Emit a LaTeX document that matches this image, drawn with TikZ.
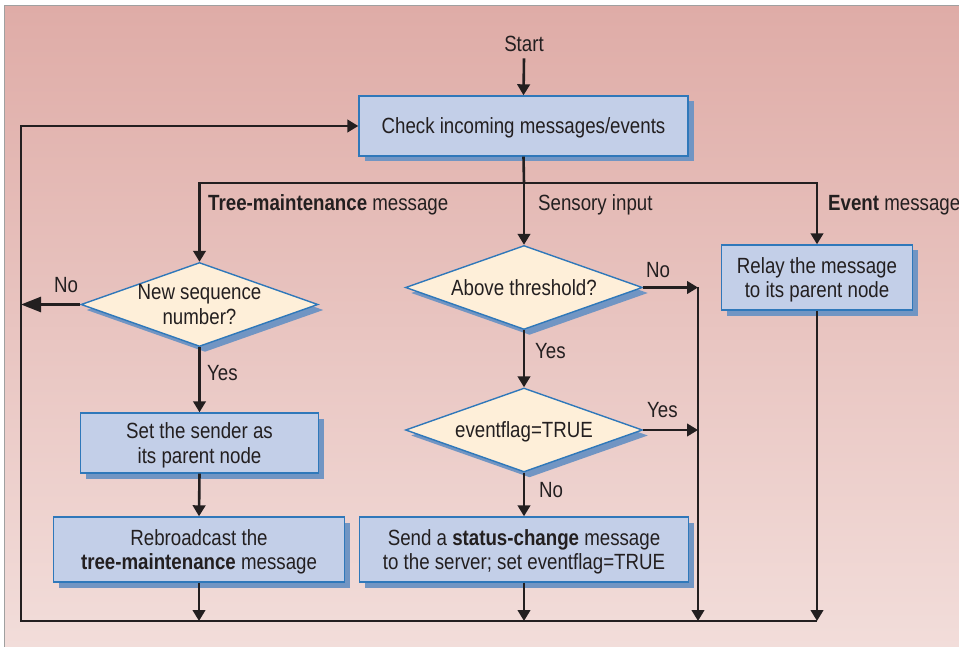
\documentclass[tikz,border=0pt]{standalone}
\usepackage{fontspec}
\setmainfont{Liberation Sans}[FakeStretch=0.85]
\usetikzlibrary{arrows.meta,shapes.geometric,shadows}
\definecolor{bgtop}{HTML}{DFACA7}
\definecolor{bgbot}{HTML}{F2DDDA}
\definecolor{boxfill}{HTML}{C3CFE8}
\definecolor{boxline}{HTML}{2F78BA}
\definecolor{shade}{HTML}{7195C3}
\definecolor{dfill}{HTML}{FEEFD9}
\definecolor{ink}{HTML}{231F20}
\definecolor{framegray}{HTML}{A0A0A0}
\begin{document}
\begin{tikzpicture}[x=1pt,y=-1pt,
  every node/.style={font=\fontsize{22}{24.5}\selectfont, text=ink},
  boxshadow/.style={general shadow={shadow xshift=5.5pt,shadow yshift=-5.5pt,fill=shade}},
  procbox/.style={draw=boxline, line width=1.4pt, fill=boxfill, inner sep=0pt, align=center, text depth=0pt, boxshadow},
  decision/.style={diamond, aspect=2.82, draw=boxline, line width=1.4pt, fill=dfill, inner xsep=-20pt, inner ysep=-5pt, minimum width=237pt, minimum height=84pt, align=center, text depth=0pt, boxshadow},
  flow/.style={draw=ink, line width=2.6pt, -{Triangle[length=11pt,width=12.5pt]}},
  bigflow/.style={draw=ink, line width=2.6pt, -{Triangle[length=20pt,width=15pt]}},
  lbl/.style={anchor=base west, inner sep=0pt},
]
\useasboundingbox (0,0) rectangle (959,647);
\shade[top color=bgtop, bottom color=bgbot] (4,6) rectangle (959,647);
\draw[framegray, line width=1pt] (4,647) -- (4,6) -- (959,6);

% nodes
\node[anchor=base, inner xsep=0pt, inner ysep=6pt] (start) at (524,52) {Start};
\node[procbox, minimum width=329pt, minimum height=60pt] (check) at (523.5,126) {Check incoming messages/events};
\node[decision] (nsd) at (199.5,304.5) {New sequence\\number?};
\node[decision] (ath) at (524,287.5) {Above threshold?};
\node[decision] (evf) at (524,430) {eventflag=TRUE};
\node[procbox, minimum width=191pt, minimum height=65pt] (relay) at (817,277.5) {Relay the message\\to its parent node};
\node[procbox, minimum width=238pt, minimum height=60pt] (setp) at (199.5,443) {Set the sender as\\its parent node};
\node[procbox, minimum width=291pt, minimum height=65pt] (rebro) at (199,549.5) {Rebroadcast the\\\textbf{tree-maintenance} message};
\node[procbox, minimum width=329pt, minimum height=65pt] (send) at (524,549.5) {Send a \textbf{status-change} message\\to the server; set eventflag=TRUE};

% labels
\node[lbl] (ltm) at (208,211) {\textbf{Tree-maintenance} message};
\node[lbl] (lsens) at (538,211) {Sensory input};
\node[lbl] (levt) at (828,211) {\textbf{Event} message};
\node[lbl] (lno1) at (54,293) {No};
\node[lbl] (lyes1) at (207,380) {Yes};
\node[lbl] (lno2) at (646,277) {No};
\node[lbl] (lyes2) at (535,358) {Yes};
\node[lbl] (lyes3) at (647,417) {Yes};
\node[lbl] (lno3) at (539,497) {No};

% helper coordinates
\coordinate (bj) at (524,183);
\coordinate (loopT) at (21,126);
\coordinate (loopB) at (21,621);
\coordinate (colB) at (698,621);

% connectors
\draw[flow] (start.south) -- (check.north);
\draw[draw=ink, line width=2.6pt] (check.south) -- (bj);
\draw[flow] (bj) -- (ath.north);
\draw[flow] (bj) -| (nsd.north);
\draw[flow] (bj) -| (relay.north);
\draw[bigflow] (nsd.west) -- (nsd.west -| loopB);
\draw[flow] (nsd.south) -- (setp.north);
\draw[flow] (setp.south) -- (rebro.north);
\draw[flow] (rebro.south) -- (rebro.south |- loopB);
\draw[flow] (ath.south) -- (evf.north);
\draw[flow] (ath.east) -- (ath.east -| colB);
\draw[flow] (evf.east) -- (evf.east -| colB);
\draw[flow] (ath.east -| colB) -- (colB);
\draw[flow] (evf.south) -- (send.north);
\draw[flow] (send.south) -- (send.south |- loopB);
\draw[flow] (relay.south) -- (relay.south |- loopB);
\draw[flow] (relay.south |- loopB) -- (loopB) -- (loopT) -- (check.west);
\end{tikzpicture}
\end{document}
